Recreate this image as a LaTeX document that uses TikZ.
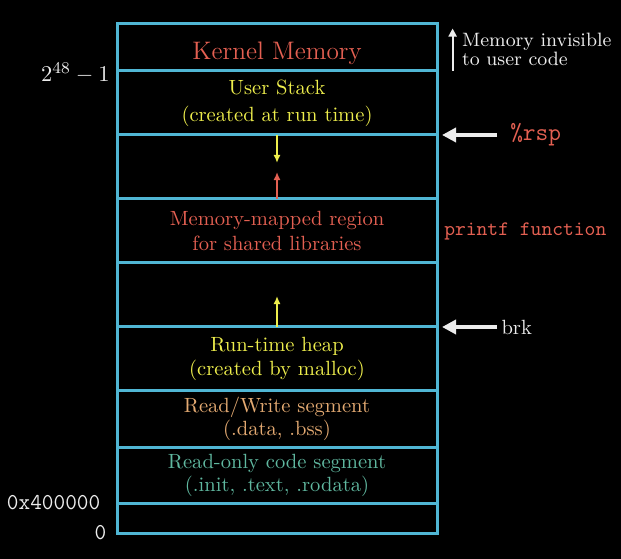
\documentclass[tikz,border=0pt]{standalone}
\usepackage{amsmath}
\usepackage{tikz}
\usetikzlibrary{arrows.meta, positioning, calc}

\newlength{\pxu}
\setlength{\pxu}{0.486pt}

\definecolor{wallblue}{RGB}{80,182,212}
\definecolor{kernred}{RGB}{228,96,82}
\definecolor{stackyellow}{RGB}{238,238,76}
\definecolor{rwgold}{RGB}{228,170,114}
\definecolor{roteal}{RGB}{96,184,160}
\definecolor{inkwhite}{RGB}{236,236,236}

\begin{document}
\begin{tikzpicture}[x=\pxu, y=\pxu,
  seg/.style={draw=wallblue, line width=3\pxu, minimum width=320\pxu, inner sep=0pt, outer sep=0pt, align=center, font=\fontsize{10}{13}\selectfont},
  growarrow/.style={-{Latex[length=3.9pt, width=3.4pt]}, line width=1.6\pxu},
  ptr/.style={-{Triangle[length=6.8pt, width=6.8pt]}, line width=3.5\pxu, draw=inkwhite},
  addr/.style={font=\ttfamily\fontsize{11}{13}\selectfont, text=inkwhite}]
\path[use as bounding box, fill=black] (0,0) rectangle (621,-559);

% Address space segments
\node[seg, minimum height=47\pxu, text=kernred, font=\fontsize{12.3}{14}\selectfont, text height=30\pxu] (kernel) at (277,-47.5) {Kernel Memory};
\node[seg, minimum height=64\pxu, text=stackyellow, below=0pt of kernel] (stack) {User Stack\\(created at run time)};
\node[seg, minimum height=64\pxu, below=0pt of stack] (stackgap) {};
\node[seg, minimum height=64\pxu, text=kernred, font=\fontsize{10}{12}\selectfont, below=0pt of stackgap] (mmap) {Memory-mapped region\\for shared libraries};
\node[seg, minimum height=64\pxu, below=0pt of mmap] (heapgap) {};
\node[seg, minimum height=64\pxu, text=stackyellow, font=\fontsize{10}{12}\selectfont, below=0pt of heapgap] (heap) {Run-time heap\\(created by malloc)};
\node[seg, minimum height=56\pxu, text=rwgold, font=\fontsize{10}{9.7}\selectfont, below=0pt of heap] (rw) {Read/Write segment\\(.data, .bss)};
\node[seg, minimum height=56\pxu, text=roteal, font=\fontsize{10}{11.2}\selectfont, below=0pt of rw] (code) {Read-only code segment\\(.init, .text, .rodata)};
\node[seg, minimum height=30\pxu, below=0pt of code] (bottom) {};

% Growth arrows
\coordinate[below=28\pxu of stack.south] (stackgrow);
\coordinate[above=27\pxu of mmap.north] (mmapgrow);
\coordinate[above=31\pxu of heap.north] (heapgrow);
\draw[growarrow, stackyellow] (stack.south) -- (stackgrow);
\draw[growarrow, kernred] (mmap.north) -- (mmapgrow);
\draw[growarrow, stackyellow] (heap.north) -- (heapgrow);

% Pointers on the right
\coordinate[right=60\pxu of stack.south east] (rspfoot);
\coordinate[right=5\pxu of stack.south east] (rsptip);
\draw[ptr] (rspfoot) -- (rsptip);
\node[right=6\pxu of rspfoot, text=kernred, font=\ttfamily\fontsize{12}{14}\selectfont] (rsp) {\%rsp};

\coordinate[right=60\pxu of heap.north east] (brkfoot);
\coordinate[right=5\pxu of heap.north east] (brktip);
\draw[ptr] (brkfoot) -- (brktip);
\node[right=0pt of brkfoot, inner sep=2pt, text=inkwhite] (brk) {brk};

\node[right=0pt of mmap, text=kernred, font=\ttfamily\fontsize{10}{12}\selectfont] (printf) {printf function};

\node[below right=4.5\pxu and 20.6\pxu of kernel.north east, inner sep=2pt, align=left, text=inkwhite, font=\fontsize{9.4}{8.4}\selectfont] (invis) {Memory invisible\\to user code};
\draw[-{Triangle[length=3.9pt, width=3.9pt]}, line width=2\pxu, inkwhite] ([xshift=-5\pxu]invis.south west) -- ([xshift=-5\pxu]invis.north west);

% Addresses on the left
\node[left=0pt of kernel.south west, yshift=-2\pxu, text=inkwhite, font=\fontsize{11}{13}\selectfont] (topaddr) {$2^{48}-1$};
\node[addr, left=9.5\pxu of code.south west] (lowaddr) {0x400000};
\node[addr, left=3.5\pxu of bottom.south west] (zero) {0};
\end{tikzpicture}
\end{document}
